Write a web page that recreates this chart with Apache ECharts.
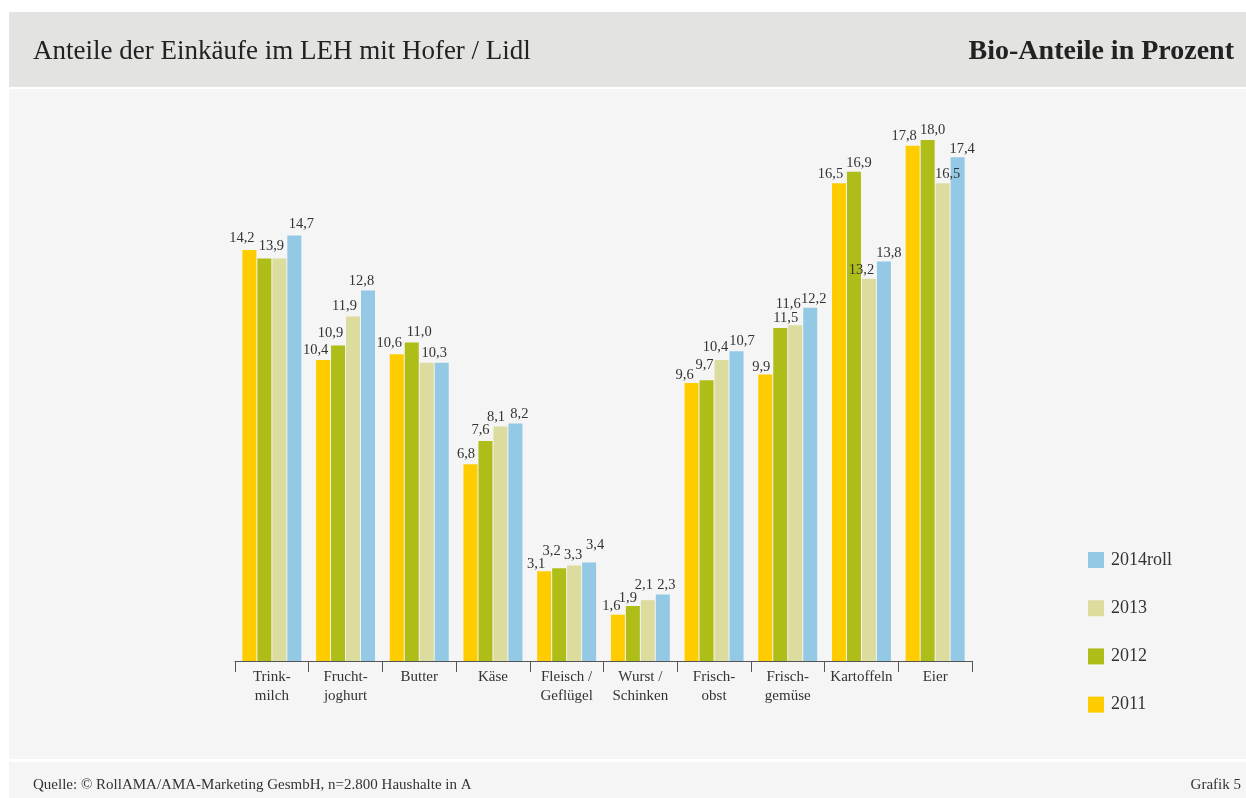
<!DOCTYPE html>
<html>
<head>
<meta charset="utf-8">
<title>Bio-Anteile in Prozent</title>
<script src="https://cdn.jsdelivr.net/npm/echarts@6/dist/echarts.min.js"></script>
<style>
  html, body { margin: 0; padding: 0; background: #ffffff; }
  #chart { width: 1246px; height: 798px; }
</style>
</head>
<body>
<div id="chart"></div>
<script>
// Product groups (two-line axis labels)
const categories = [
  'Trink-\nmilch', 'Frucht-\njoghurt', 'Butter', 'Käse', 'Fleisch /\nGeflügel',
  'Wurst /\nSchinken', 'Frisch-\nobst', 'Frisch-\ngemüse', 'Kartoffeln', 'Eier'
];

// Organic share in percent per year
const years = ['2011', '2012', '2013', '2014roll'];
const values2011 = [14.2, 10.4, 10.6, 6.8, 3.1, 1.6, 9.6, 9.9, 16.5, 17.8];
const values2012 = [13.9, 10.9, 11.0, 7.6, 3.2, 1.9, 9.7, 11.5, 16.9, 18.0];
const values2013 = [13.9, 11.9, 10.3, 8.1, 3.3, 2.1, 10.4, 11.6, 13.2, 16.5];
const values2014 = [14.7, 12.8, 10.3, 8.2, 3.4, 2.3, 10.7, 12.2, 13.8, 17.4];

const seriesValues = [values2011, values2012, values2013, values2014];
const seriesColors = ['#ffcc00', '#afbd19', '#dbdc9d', '#93c9e4'];

// Hand-placed value labels: [dx, dy] nudges, null = label left out
// (equal neighbouring values share one label).
const labelNudges = [
  [[-7.5,-2],[-7.5,0],[-7.5,-1],[-4.5,0],[-8,2],[-6.5,1],[-7,2],[-4,2],[-8.5,0],[-8.5,0]],
  [[7,-3],[-7.5,-3],[7.5,-1],[-5,-1],[-7.5,-8],[-5,2],[-2,-5],[5.5,0],[5,1],[5,0]],
  [null,[-8.5,-1],[7.5,0],[-4.5,0],[-1,-1],[-4,-6],[-6,-3],[-7,-11],[-7.5,1],[5,0]],
  [[7,-2],[-6.5,0],null,[4,0],[6,-8],[3.5,0],[5.5,-1],[3.5,1],[5,1],[4.5,1]]
];

const serif = '"Liberation Serif", "DejaVu Serif", serif';
const textColor = '#333333';

function fmt(v) {
  return v.toFixed(1).replace('.', ',');
}

const series = years.map(function (name, s) {
  return {
    name: name,
    type: 'bar',
    barGap: '7%',
    barCategoryGap: '20%',
    itemStyle: { color: seriesColors[s] },
    label: {
      show: true,
      position: 'top',
      distance: 2,
      fontFamily: serif,
      fontSize: 14.5,
      color: textColor,
      formatter: function (p) { return fmt(p.value); }
    },
    emphasis: { disabled: true },
    data: seriesValues[s].map(function (v, i) {
      const n = labelNudges[s][i];
      return n
        ? { value: v, label: { offset: n } }
        : { value: v, label: { show: false } };
    })
  };
});

const chart = echarts.init(document.getElementById('chart'), null, { renderer: 'canvas' });

chart.setOption({
  backgroundColor: '#ffffff',
  animation: false,
  graphic: [
    // header band
    { type: 'rect', left: 9, top: 12, shape: { width: 1237, height: 75 },
      style: { fill: '#e3e3e1' }, silent: true, z: -10 },
    // plot panel
    { type: 'rect', left: 9, top: 89, shape: { width: 1237, height: 670 },
      style: { fill: '#f5f5f5' }, silent: true, z: -10 },
    // footer band
    { type: 'rect', left: 9, top: 762, shape: { width: 1237, height: 36 },
      style: { fill: '#f5f5f5' }, silent: true, z: -10 },
    { type: 'text', left: 33, top: 38,
      style: { text: 'Anteile der Einkäufe im LEH mit Hofer / Lidl',
               font: '27px ' + serif, fill: '#222222' }, silent: true },
    { type: 'text', right: 12, top: 38,
      style: { text: 'Bio-Anteile in Prozent',
               font: 'bold 28px ' + serif, fill: '#222222' }, silent: true },
    { type: 'text', left: 33, top: 778,
      style: { text: 'Quelle: © RollAMA/AMA-Marketing GesmbH, n=2.800 Haushalte in A',
               font: '15px ' + serif, fill: '#333333' }, silent: true },
    { type: 'text', right: 5, top: 778,
      style: { text: 'Grafik 5', font: '15px ' + serif, fill: '#333333' }, silent: true }
  ],
  legend: {
    orient: 'vertical',
    left: 1088,
    top: 551,
    padding: 0,
    data: ['2014roll', '2013', '2012', '2011'],
    icon: 'rect',
    itemWidth: 16,
    itemHeight: 16,
    itemGap: 30.2,
    selectedMode: false,
    textStyle: {
      fontFamily: serif,
      fontSize: 18,
      lineHeight: 16,
      color: textColor,
      padding: [0, 0, 0, 2]
    }
  },
  grid: {
    left: 235,
    right: 274,
    top: 82,
    bottom: 137,
    containLabel: false
  },
  xAxis: {
    type: 'category',
    data: categories,
    boundaryGap: true,
    axisLine: { show: true, lineStyle: { color: '#555555', width: 1 } },
    axisTick: { show: true, length: 11, lineStyle: { color: '#555555', width: 1 } },
    axisLabel: {
      interval: 0,
      margin: 7,
      fontFamily: serif,
      fontSize: 15,
      lineHeight: 19,
      color: textColor
    }
  },
  yAxis: {
    type: 'value',
    min: 0,
    max: 20,
    interval: 5,
    show: false,
    splitLine: { show: false }
  },
  series: series
});
</script>
</body>
</html>
